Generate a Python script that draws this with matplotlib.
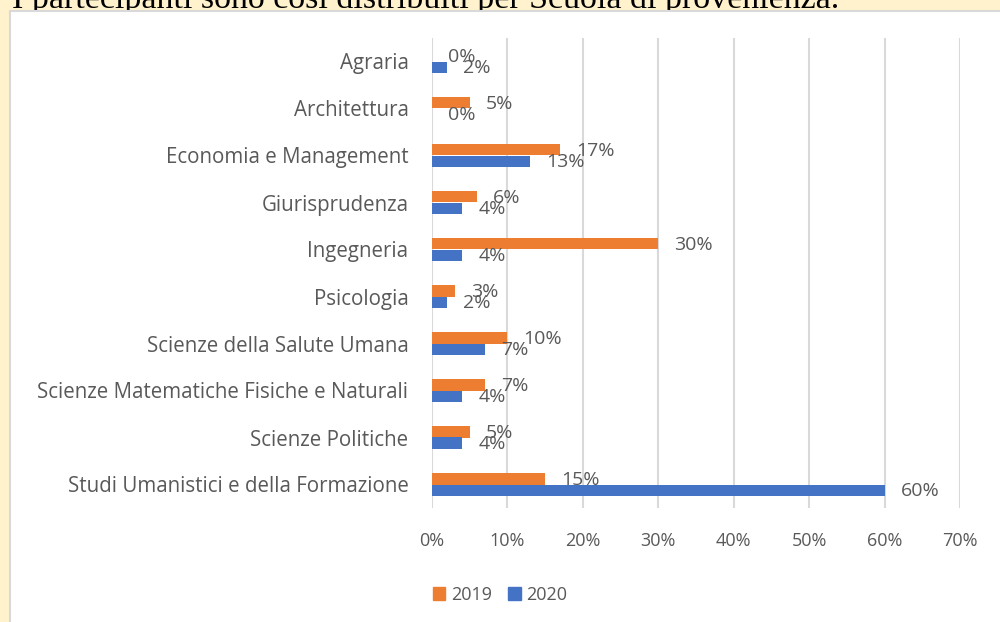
"""Partecipanti per Scuola di provenienza, 2019 vs 2020."""

import matplotlib.pyplot as plt
from matplotlib.patches import Patch, Rectangle
from matplotlib.transforms import offset_copy

SCHOOLS = [
    "Agraria",
    "Architettura",
    "Economia e Management",
    "Giurisprudenza",
    "Ingegneria",
    "Psicologia",
    "Scienze della Salute Umana",
    "Scienze Matematiche Fisiche e Naturali",
    "Scienze Politiche",
    "Studi Umanistici e della Formazione",
]
PCT_2019 = [0, 5, 17, 6, 30, 3, 10, 7, 5, 15]
PCT_2020 = [2, 0, 13, 4, 4, 2, 7, 4, 4, 60]
X_TICKS = [0, 10, 20, 30, 40, 50, 60, 70]

ORANGE = "#ED7D31"
BLUE = "#4472C4"
TEXT = "#595959"
GRID = "#D9D9D9"
FONT = "Open Sans"

W, H = 1000, 622
fig = plt.figure(figsize=(W / 100, H / 100), dpi=100, facecolor="#FFF2CC")

# heading of the surrounding document, mostly cut off at the top
fig.text(12 / W, 1 - 8 / H, "I partecipanti sono così distribuiti per Scuola di provenienza.",
         family="Liberation Serif", fontsize=24.5, color="black", va="baseline", zorder=0.5)

# white chart area with its light border
fig.add_artist(Rectangle((10 / W, -0.1), 1.2, 0.1 + (H - 11) / H, transform=fig.transFigure,
                         facecolor="white", edgecolor=GRID, linewidth=1.5, zorder=1))

ax = fig.add_axes([432 / W, 1 - 508 / H, 528 / W, 470 / H], zorder=2)
ax.set_facecolor("none")

h = 0.255
ys = list(range(len(SCHOOLS)))
ax.barh([y - h / 2 for y in ys], PCT_2019, height=h, color=ORANGE, zorder=3)
ax.barh([y + h / 2 for y in ys], PCT_2020, height=h, color=BLUE, zorder=3)

lab_off = offset_copy(ax.transData, fig=fig, x=16, y=-1, units="dots")
for y, a, b in zip(ys, PCT_2019, PCT_2020):
    ax.text(a, y - h / 2, f"{a}%", transform=lab_off, ha="left", va="center",
            fontsize=14, color=TEXT, family=FONT, zorder=4)
    ax.text(b, y + h / 2, f"{b}%", transform=lab_off, ha="left", va="center",
            fontsize=14, color=TEXT, family=FONT, zorder=4)

ax.set_xlim(0, 70)
ax.set_ylim(len(SCHOOLS) - 0.5, -0.5)
ax.set_xticks(X_TICKS)
ax.set_xticklabels([f"{t}%" for t in X_TICKS], fontsize=13)
ax.set_yticks(ys)
ax.set_yticklabels(SCHOOLS, fontsize=14.8)
ax.tick_params(length=0, labelcolor=TEXT)
ax.tick_params(axis="x", pad=17)
ax.tick_params(axis="y", pad=17)
for lab in ax.get_xticklabels() + ax.get_yticklabels():
    lab.set_family(FONT)
ax.grid(axis="x", color=GRID, linewidth=1.5, zorder=0)
ax.set_axisbelow(True)
for s in ax.spines.values():
    s.set_visible(False)

handles = [Patch(color=ORANGE, label="2019"), Patch(color=BLUE, label="2020")]
fig.legend(handles=handles, loc="center", bbox_to_anchor=(500 / W, 1 - 595 / H), ncol=2,
           frameon=False, handlelength=0.7, handleheight=0.7, handletextpad=0.3,
           columnspacing=0.9, prop={"family": FONT, "size": 13}, labelcolor=TEXT)

fig.savefig("out.png", dpi=100, facecolor=fig.get_facecolor())
